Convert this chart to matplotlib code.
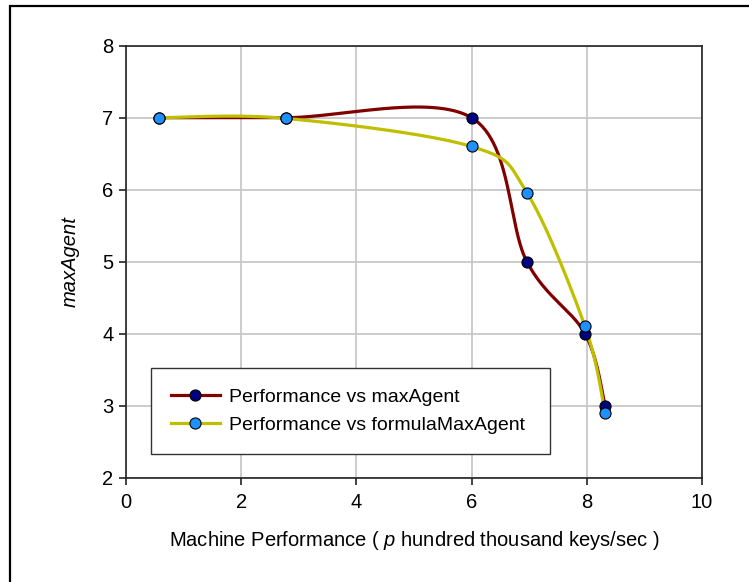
import numpy as np
import matplotlib
matplotlib.use("Agg")
import matplotlib.pyplot as plt
from matplotlib.patches import Rectangle

plt.rcParams['font.family'] = ['Liberation Sans', 'DejaVu Sans']
plt.rcParams['mathtext.fontset'] = 'custom'
plt.rcParams['mathtext.it'] = 'Liberation Sans:italic'
plt.rcParams['mathtext.rm'] = 'Liberation Sans'

perf = [0.58, 2.78, 6.0, 6.96, 7.97, 8.32]
max_agent = [7.0, 7.0, 7.0, 5.0, 4.0, 3.0]
formula_max_agent = [7.0, 6.99, 6.6, 5.96, 4.1, 2.9]

x_ticks = [0, 2, 4, 6, 8, 10]
y_ticks = [2, 3, 4, 5, 6, 7, 8]


def smooth(xs, ys, n=60):
    # Excel-like smoothed line: cubic Bezier per segment, Catmull-Rom control points (1/6)
    p = np.column_stack([xs, ys]).astype(float)
    ext = np.vstack([p[0], p, p[-1]])
    pts = []
    for i in range(len(p) - 1):
        p0, p1, p2, p3 = ext[i], ext[i + 1], ext[i + 2], ext[i + 3]
        c1 = p1 + (p2 - p0) / 6.0
        c2 = p2 - (p3 - p1) / 6.0
        t = np.linspace(0, 1, n)[:, None]
        seg = ((1 - t) ** 3 * p1 + 3 * (1 - t) ** 2 * t * c1
               + 3 * (1 - t) * t ** 2 * c2 + t ** 3 * p2)
        pts.append(seg)
    pts = np.vstack(pts)
    return pts[:, 0], pts[:, 1]


fig = plt.figure(figsize=(7.49, 5.82), dpi=100)
ax = fig.add_axes([0.1682, 0.1792, 0.769, 0.7423])

# chart-area frame (right/bottom edges fall outside the picture)
fig.patches.append(Rectangle((10 / 749, -0.02), 1.0, 1 - 6 / 582 + 0.02, transform=fig.transFigure,
                             fill=False, edgecolor='black', linewidth=1.6))

sx1, sy1 = smooth(perf, max_agent)
sx2, sy2 = smooth(perf, formula_max_agent)

ax.plot(sx1, sy1, color='#800000', lw=2.3, zorder=3)
ax.plot(perf, max_agent, 'o', color='#000080', mec='black', mew=0.8, ms=8, zorder=4)
ax.plot(sx2, sy2, color='#BFBF00', lw=2.3, zorder=3)
ax.plot(perf, formula_max_agent, 'o', color='#1E90FF', mec='black', mew=0.8, ms=8, zorder=5)

# legend proxies
l1, = ax.plot([], [], color='#800000', lw=2.3, marker='o', mfc='#000080', mec='black', mew=0.8, ms=8)
l2, = ax.plot([], [], color='#BFBF00', lw=2.3, marker='o', mfc='#1E90FF', mec='black', mew=0.8, ms=8)
leg = ax.legend([l1, l2], ['Performance vs maxAgent', 'Performance vs formulaMaxAgent'],
                loc='lower left', bbox_to_anchor=(0.043, 0.055, 0.693, 0.2), mode='expand',
                borderaxespad=0, fontsize=14, frameon=True, fancybox=False, framealpha=1,
                edgecolor='#333333', handlelength=2.5, handletextpad=0.5,
                borderpad=1.05, labelspacing=0.5)
leg.get_frame().set_linewidth(1.0)

ax.set_xlim(0, 10)
ax.set_ylim(2, 8)
ax.set_xticks(x_ticks)
ax.set_yticks(y_ticks)
ax.grid(True, color='#C8C8C8', lw=1.3)
ax.set_axisbelow(True)
for s in ax.spines.values():
    s.set_color('#222222')
    s.set_linewidth(1.2)
ax.tick_params(direction='out', length=5, width=1.2, labelsize=14.5, color='#222222')
ax.tick_params(axis='x', pad=6)
ax.tick_params(axis='y', pad=4)

ax.set_xlabel('Machine Performance ( $\\it{p}$ hundred thousand keys/sec )', fontsize=14.5, labelpad=12)
ax.set_ylabel('maxAgent', fontsize=14.5, style='italic', labelpad=16)

fig.savefig('out.png', dpi=100)
